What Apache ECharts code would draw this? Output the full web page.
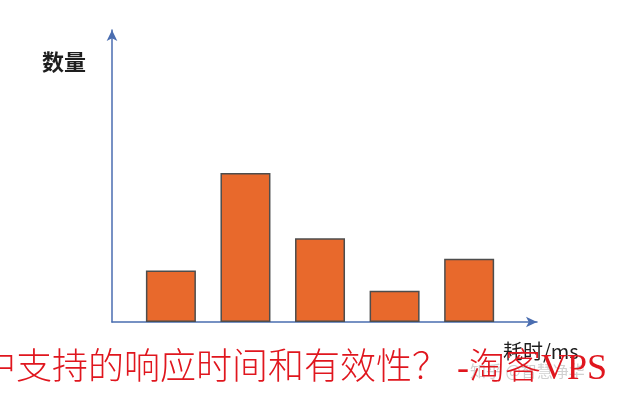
<!DOCTYPE html>
<html>
<head>
<meta charset="utf-8">
<script src="https://cdn.jsdelivr.net/npm/echarts@6/dist/echarts.min.js"></script>
<style>html,body{margin:0;padding:0;background:#fff;}#c{width:620px;height:400px;}</style>
</head>
<body>
<div id="c"></div>
<script>
// data
var categories = [1, 2, 3, 4, 5];
var counts = [5.3, 15.3, 8.6, 3.2, 6.5];
var yAxisName = '数量';
var xAxisName = '耗时/ms';
var caption = '中支持的响应时间和有效性？ -淘客VPS';
var watermark = '知乎 @智慧净华';

var chart = echarts.init(document.getElementById('c'), null, {renderer: 'canvas'});
var axisColor = '#4a6db0';
chart.setOption({
  animation: false,
  backgroundColor: '#ffffff',
  grid: {left: 112, right: 83, top: 30, bottom: 78},
  xAxis: {
    type: 'value', min: 0.21, max: 5.91,
    axisLine: {show: true, lineStyle: {color: axisColor, width: 1.5}, symbol: ['none', 'arrow'], symbolSize: [8, 11]},
    axisTick: {show: false}, axisLabel: {show: false}, splitLine: {show: false}
  },
  yAxis: {
    type: 'value', min: 0, max: 30,
    axisLine: {show: true, lineStyle: {color: axisColor, width: 1.5}, symbol: ['none', 'arrow'], symbolSize: [8, 11]},
    axisTick: {show: false}, axisLabel: {show: false}, splitLine: {show: false}
  },
  series: [{
    type: 'bar',
    barWidth: 50,
    data: categories.map(function (c, i) { return [c, counts[i]]; }),
    itemStyle: {color: '#e8692c', borderColor: '#4d4d4d', borderWidth: 1.5}
  }],
  graphic: [
    {type: 'text', left: 42, top: 51, z: 10, style: {text: yAxisName, fontSize: 22, fontFamily: 'Noto Sans CJK SC', fill: '#1e1e1e', fontWeight: 'bold'}},
    {type: 'text', left: 503, top: 341, z: 10, style: {text: xAxisName, fontSize: 20, fontFamily: 'Noto Sans CJK SC', fill: '#1e1e1e'}},
    {type: 'text', left: 470, top: 363, z: 11, style: {text: watermark, fontSize: 16, fontFamily: 'Noto Sans CJK SC', fill: 'rgba(150,150,150,0.45)'}},
    {type: 'text', x: -20, y: 370, z: 12, style: {text: caption, font: "300 36px 'Liberation Serif', 'Noto Sans CJK SC'", fill: '#e0161e', textVerticalAlign: 'middle'}}
  ]
});
</script>
</body>
</html>
